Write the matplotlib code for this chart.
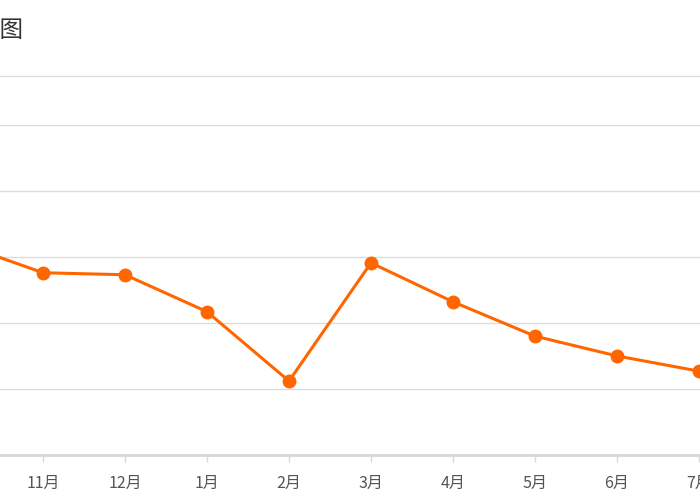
import matplotlib
matplotlib.use('Agg')
import matplotlib.pyplot as plt

plt.rcParams['font.family'] = ['Noto Sans CJK SC', 'DejaVu Sans']

# 数据（10月在左边界外）
months = ['10月', '11月', '12月', '1月', '2月', '3月', '4月', '5月', '6月', '7月']
values = [32.0, 27.6, 27.3, 21.7, 11.2, 29.1, 23.2, 18.0, 15.0, 12.7]
grid_vals = [10, 20, 30, 40, 50]

fig = plt.figure(figsize=(7, 5), dpi=100)
ax = fig.add_axes([0, 45 / 500, 1, 379 / 500])

x = list(range(len(months)))
ax.plot(x, values, color='#ff6600', linewidth=2.2, marker='o',
        markersize=9, markerfacecolor='#ff6600', markeredgecolor='#ff6600', zorder=3)

ax.set_xticks(x)
ax.set_xticklabels(months, fontsize=11.5, color='#555555')
ax.tick_params(axis='x', length=5, width=1, color='#d9d9d9', pad=9)
ax.set_yticks(grid_vals)
ax.tick_params(axis='y', left=False, labelleft=False)
ax.grid(axis='y', color='#dcdcdc', linewidth=1)
ax.set_axisbelow(True)

# 范围放在设置刻度之后
ax.set_xlim(39 / 82, 739 / 82)
ax.set_ylim(0, 57.4)

for s in ['left', 'right']:
    ax.spines[s].set_visible(False)
ax.spines['top'].set_color('#dcdcdc')
ax.spines['top'].set_linewidth(1)
ax.spines['bottom'].set_color('#d6d6d6')
ax.spines['bottom'].set_linewidth(2)

fig.text(23 / 700, 1 - 31 / 500, '价格趋势图', ha='right', va='center',
         fontsize=17, color='#333333')

fig.savefig('out.png', dpi=100)
